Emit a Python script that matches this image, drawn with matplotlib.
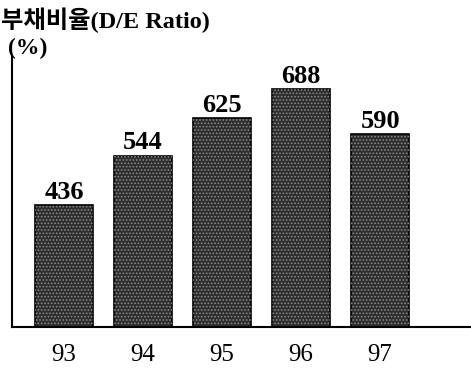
import numpy as np
import matplotlib.pyplot as plt

plt.rcParams['figure.dpi'] = 100
plt.rcParams['hatch.linewidth'] = 0.8

# 연도별 부채비율
years = ['93', '94', '95', '96', '97']
ratio = [436, 544, 625, 688, 590]

fig = plt.figure(figsize=(4.71, 3.69))
ax = fig.add_axes([0.0255, 0.1138, 0.9745, 0.735])

x = np.arange(len(years))
ax.bar(x, ratio, width=0.73, color='#2c2c2c', edgecolor='black', linewidth=1.2)
# 점무늬
ax.bar(x, ratio, width=0.73, fill=False, edgecolor='#8a8a8a', hatch='.....', linewidth=0)

for xi, v in zip(x, ratio):
    ax.text(xi, v + 3, str(v), ha='center', va='bottom', fontsize=19,
            fontweight='bold', family='Liberation Serif')

ax.set_xlim(-0.66, 5.15)
ax.set_ylim(173, 760)
ax.set_xticks(x)
ax.set_xticklabels(years, family='Liberation Serif', fontsize=18)
ax.tick_params(axis='x', length=0, pad=12)
ax.set_yticks([])
for s in ['top', 'right']:
    ax.spines[s].set_visible(False)
for s in ['left', 'bottom']:
    ax.spines[s].set_linewidth(1.5)

fig.text(0.002, 0.924, '부채비율(D/E Ratio)', fontsize=17.5, fontweight='bold',
         family=['Liberation Serif', 'Noto Sans CJK KR'], va='baseline')
fig.text(0.017, 0.853, '(%)', fontsize=17, fontweight='bold',
         family='Liberation Serif', va='baseline')

fig.savefig('out.png')
